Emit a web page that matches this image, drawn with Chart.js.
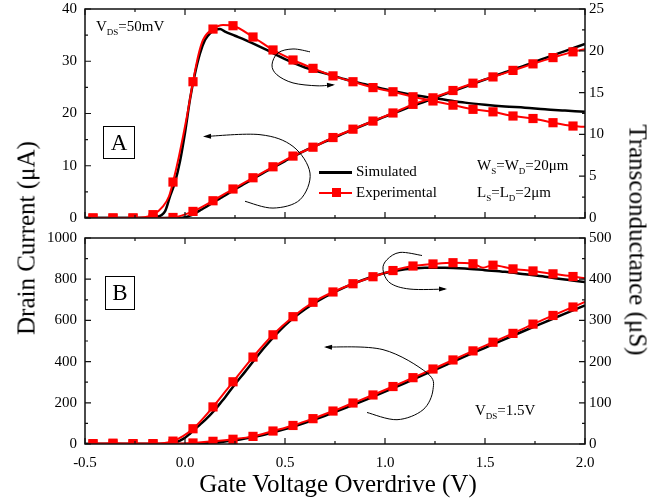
<!DOCTYPE html>
<html>
<head>
<meta charset="utf-8">
<script src="https://cdn.jsdelivr.net/npm/chart.js@4.4.0/dist/chart.umd.min.js"></script>
<style>
  body { margin: 0; background: #fff; }
  #wrap { position: relative; width: 664px; height: 501px; font-family: "Liberation Serif", "Times New Roman", serif; color: #000; overflow: hidden; }
  canvas { position: absolute; left: 0; }
  .lbl { position: absolute; white-space: nowrap; font-size: 15px; line-height: 15px; }
  .lbl sub { font-size: 9px; vertical-align: -4px; line-height: 0; }
  .box { position: absolute; border: 1px solid #000; font-size: 23px; line-height: 31px; text-align: center; }
  .title { position: absolute; white-space: nowrap; font-size: 25px; line-height: 25px; transform: translate(-50%, -50%); }
  .leg-line { position: absolute; height: 3px; }
  .leg-mark { position: absolute; width: 9px; height: 9px; background: #ff0000; }
</style>
</head>
<body>
<div id="wrap">
  <canvas id="chartA" width="664" height="228" style="top:0"></canvas>
  <canvas id="chartB" width="664" height="273" style="top:228px"></canvas>

  <div class="lbl" style="left:96px; top:19px;">V<sub>DS</sub>=50mV</div>
  <div class="box" style="left:103px; top:126px; width:30px; height:31px;">A</div>
  <div class="leg-line" style="left:319px; top:171px; width:33px; background:#000;"></div>
  <div class="lbl" style="left:356px; top:164px;">Simulated</div>
  <div class="leg-line" style="left:319px; top:192px; width:33px; height:2px; background:#ff0000;"></div>
  <div class="leg-mark" style="left:332px; top:188px;"></div>
  <div class="lbl" style="left:356px; top:185px;">Experimental</div>
  <div class="lbl" style="left:477px; top:158px;">W<sub>S</sub>=W<sub>D</sub>=20μm</div>
  <div class="lbl" style="left:477px; top:185px;">L<sub>S</sub>=L<sub>D</sub>=2μm</div>

  <div class="box" style="left:105px; top:276px; width:28px; height:32px;">B</div>
  <div class="lbl" style="left:475px; top:403px;">V<sub>DS</sub>=1.5V</div>

  <div class="title" style="left:26px; top:238px; transform:translate(-50%,-50%) rotate(-90deg);">Drain Current (μA)</div>
  <div class="title" style="left:638px; top:240px; transform:translate(-50%,-50%) rotate(90deg);">Transconductance (μS)</div>
  <div class="title" style="left:338px; top:483px;">Gate Voltage Overdrive (V)</div>
</div>

<script>
// simulated curves (black), shared gate voltage grid
const simV = [-0.5, -0.2, -0.15, -0.1, -0.075, -0.05, -0.025, 0, 0.025, 0.05, 0.075, 0.1, 0.125, 0.15, 0.175, 0.2, 0.25, 0.3, 0.4, 0.5, 0.6, 0.7, 0.8, 0.9, 1.0, 1.1, 1.2, 1.3, 1.4, 1.5, 1.6, 1.7, 1.8, 1.9, 2.0];
const simGmA = [0, 0, 0.1, 0.8, 2.6, 4.3, 6.8, 10.2, 14.2, 17.3, 19.7, 21.3, 22.1, 22.5, 22.6, 22.3, 21.8, 21.3, 20.2, 19.0, 18.0, 17.3, 16.6, 16.0, 15.4, 14.9, 14.5, 14.15, 13.8, 13.55, 13.35, 13.2, 13.0, 12.85, 12.7];
const simIdA = [0, 0, 0, 0, 0, 0, 0.02, 0.15, 0.45, 0.9, 1.45, 2.0, 2.6, 3.2, 3.75, 4.3, 5.5, 6.6, 8.8, 10.9, 12.9, 14.6, 16.3, 17.9, 19.4, 20.9, 22.3, 23.7, 25.1, 26.5, 27.9, 29.2, 30.6, 31.95, 33.3];
const simGmB = [0, 0, 0, 0, 0.5, 3, 8, 15, 25, 36, 47, 58, 70, 83, 98, 113, 145, 175, 236, 288, 327, 357, 381, 400, 415, 424, 428, 428, 426, 422, 418, 412, 406, 399, 393];
const simIdB = [0, 0, 0, 0, 0, 0, 0, 0, 0.3, 1, 2, 3.5, 5, 7, 9, 12, 18, 26, 46, 72, 103, 137, 174, 213, 254, 296, 339, 382, 425, 467, 509, 551, 592, 633, 673];

// experimental (red) marker points
const expV = [-0.46, -0.36, -0.26, -0.16, -0.06, 0.04, 0.14, 0.24, 0.34, 0.44, 0.54, 0.64, 0.74, 0.84, 0.94, 1.04, 1.14, 1.24, 1.34, 1.44, 1.54, 1.64, 1.74, 1.84, 1.94];
const expGmA = [0, 0, 0, 0.4, 4.3, 16.3, 22.6, 23.0, 21.65, 20.1, 18.9, 17.9, 17.0, 16.3, 15.6, 15.1, 14.5, 14.0, 13.5, 13.0, 12.7, 12.2, 11.9, 11.4, 11.0];
const expIdA = [0, 0, 0, 0, 0.1, 1.26, 3.3, 5.55, 7.7, 9.8, 11.85, 13.55, 15.4, 17.0, 18.55, 20.1, 21.75, 23.0, 24.4, 25.8, 27.0, 28.25, 29.5, 30.7, 31.8];
const expGmB = [1, 2, 1, 1, 7, 37, 90, 151, 211, 265, 309, 344, 369, 389, 406, 421, 432, 437, 440, 437.5, 434, 425, 420, 413, 406.5];
const expIdB = [0, 0, 0, 0, 1, 5, 13, 23, 37, 63, 90, 123, 160, 199, 238, 279, 322, 364, 408, 452, 494, 537, 582, 624, 665];

// experimental line points between markers (no marker drawn)
const extraGmAV = [-0.11, -0.08, -0.03, 0.01, 0.065, 0.09, 0.19, 2.0];
const extraGmA = [1.4, 2.6, 7.4, 12.2, 19.3, 21.3, 23.1, 10.9];
const extraIdAV = [2.0];
const extraIdA = [32.3];
const extraGmBV = [1.49, 2.0];
const extraGmB = [428, 402];
const extraIdBV = [2.0];
const extraIdB = [690];

// curved arrows, in (V, left axis) units
const arrowsA = [
  [[0.625, 31.8], [0.54, 32.35], [0.465, 31.6], [0.435, 29.3], [0.46, 27.4], [0.54, 25.85], [0.66, 25.3], [0.74, 25.5]],
  [[0.3, 3.2], [0.44, 1.9], [0.575, 3.5], [0.625, 8.6], [0.54, 13.7], [0.375, 15.95], [0.1, 15.6]]
];
const arrowsB = [
  [[1.185, 915], [1.075, 930], [1.01, 895], [0.99, 847], [1.025, 782], [1.125, 752], [1.3, 752]],
  [[0.91, 153], [1.06, 118], [1.19, 166], [1.24, 264], [1.21, 345], [0.99, 458], [0.705, 471]]
];

const RED = '#ff0000';
const FONT = { family: '"Liberation Serif", "Times New Roman", serif', size: 15 };

function pts(xs, ys) {
  return xs.map((x, i) => ({ x: x, y: ys[i] }));
}
function merged(xs, ys, ex, ey) {
  return pts(xs, ys).concat(pts(ex, ey)).sort((a, b) => a.x - b.x);
}

// frame + inward major/minor ticks on all four sides
const framePlugin = {
  id: 'frame',
  afterDraw(chart) {
    const { ctx, chartArea: a, scales } = chart;
    ctx.save();
    ctx.strokeStyle = '#111';
    ctx.lineWidth = 1.5;
    ctx.strokeRect(a.left, a.top, a.right - a.left, a.bottom - a.top);
    ctx.lineWidth = 1.2;
    const marks = (scale, fn) => {
      const step = scale.options.ticks.stepSize / 2;
      const n = Math.round((scale.max - scale.min) / step);
      for (let i = 0; i <= n; i++) {
        const p = scale.getPixelForValue(scale.min + i * step);
        fn(p, i % 2 === 0 ? 6 : 3);
      }
    };
    ctx.beginPath();
    marks(scales.x, (p, len) => {
      ctx.moveTo(p, a.bottom); ctx.lineTo(p, a.bottom - len);
      ctx.moveTo(p, a.top); ctx.lineTo(p, a.top + len);
    });
    marks(scales.yL, (p, len) => { ctx.moveTo(a.left, p); ctx.lineTo(a.left + len, p); });
    marks(scales.yR, (p, len) => { ctx.moveTo(a.right, p); ctx.lineTo(a.right - len, p); });
    ctx.stroke();
    ctx.restore();
  }
};

// thin curved arrows showing which axis each curve uses
const arrowPlugin = {
  id: 'arrows',
  afterDatasetsDraw(chart, args, opts) {
    const { ctx, scales } = chart;
    ctx.save();
    ctx.strokeStyle = '#000';
    ctx.fillStyle = '#000';
    ctx.lineWidth = 1;
    (opts.paths || []).forEach(path => {
      const p = path.map(q => [scales.x.getPixelForValue(q[0]), scales.yL.getPixelForValue(q[1])]);
      ctx.beginPath();
      ctx.moveTo(p[0][0], p[0][1]);
      for (let i = 0; i < p.length - 1; i++) {
        const p0 = p[i - 1] || p[i], p1 = p[i], p2 = p[i + 1], p3 = p[i + 2] || p2;
        ctx.bezierCurveTo(
          p1[0] + (p2[0] - p0[0]) / 6, p1[1] + (p2[1] - p0[1]) / 6,
          p2[0] - (p3[0] - p1[0]) / 6, p2[1] - (p3[1] - p1[1]) / 6,
          p2[0], p2[1]);
      }
      ctx.stroke();
      const e = p[p.length - 1], b = p[p.length - 2];
      const ang = Math.atan2(e[1] - b[1], e[0] - b[0]);
      ctx.beginPath();
      ctx.moveTo(e[0] + 2 * Math.cos(ang), e[1] + 2 * Math.sin(ang));
      ctx.lineTo(e[0] - 6 * Math.cos(ang) - 2.5 * Math.sin(ang), e[1] - 6 * Math.sin(ang) + 2.5 * Math.cos(ang));
      ctx.lineTo(e[0] - 6 * Math.cos(ang) + 2.5 * Math.sin(ang), e[1] - 6 * Math.sin(ang) - 2.5 * Math.cos(ang));
      ctx.closePath();
      ctx.fill();
    });
    ctx.restore();
  }
};

function redLine(data, axis) {
  return { data: data, yAxisID: axis, borderColor: RED, borderWidth: 2, pointRadius: 0,
           cubicInterpolationMode: 'monotone', order: 0 };
}
function redMarks(data, axis) {
  return { data: data, yAxisID: axis, showLine: false, pointStyle: 'rect', pointRadius: 6.5,
           backgroundColor: RED, borderWidth: 0, order: 0 };
}
function blackLine(data, axis) {
  return { data: data, yAxisID: axis, borderColor: '#000', borderWidth: 2.5, pointRadius: 0,
           cubicInterpolationMode: 'monotone', order: 1 };
}

// axis box sizes are fixed so both panels line up
function fixY(width) {
  return s => { s.width = width; s.paddingTop = 0; s.paddingBottom = 0; };
}

function makePanel(id, p) {
  return new Chart(document.getElementById(id), {
    type: 'line',
    data: { datasets: p.datasets },
    options: {
      responsive: false,
      animation: false,
      devicePixelRatio: 1,
      layout: { padding: { top: p.padTop, left: 0, right: 0, bottom: 0 } },
      plugins: { legend: { display: false }, tooltip: { enabled: false }, arrows: { paths: p.arrows } },
      scales: {
        x: {
          type: 'linear', min: -0.5, max: 2.0,
          grid: { display: false, drawTicks: false }, border: { display: false },
          ticks: { stepSize: 0.5, display: p.showX, autoSkip: false, maxRotation: 0, padding: 10,
                   font: FONT, color: '#000', callback: v => v.toFixed(1) },
          afterFit: s => { s.height = p.xHeight; s.paddingLeft = 0; s.paddingRight = 0; }
        },
        yL: {
          position: 'left', min: 0, max: p.leftMax,
          grid: { display: false, drawTicks: false }, border: { display: false },
          ticks: { stepSize: p.leftStep, padding: 8, font: FONT, color: '#000', callback: v => String(v) },
          afterFit: fixY(85)
        },
        yR: {
          position: 'right', min: 0, max: p.rightMax,
          grid: { display: false, drawTicks: false }, border: { display: false },
          ticks: { stepSize: p.rightStep, padding: 4, font: FONT, color: '#000', callback: v => String(v) },
          afterFit: fixY(79)
        }
      }
    },
    plugins: [framePlugin, arrowPlugin]
  });
}

makePanel('chartA', {
  padTop: 9, xHeight: 10, showX: false,
  leftMax: 40, leftStep: 10, rightMax: 25, rightStep: 5,
  arrows: arrowsA,
  datasets: [
    redLine(merged(expV, expGmA, extraGmAV, extraGmA), 'yR'),
    redMarks(pts(expV, expGmA), 'yR'),
    redLine(merged(expV, expIdA, extraIdAV, extraIdA), 'yL'),
    redMarks(pts(expV, expIdA), 'yL'),
    blackLine(pts(simV, simGmA), 'yR'),
    blackLine(pts(simV, simIdA), 'yL')
  ]
});

makePanel('chartB', {
  padTop: 10, xHeight: 57, showX: true,
  leftMax: 1000, leftStep: 200, rightMax: 500, rightStep: 100,
  arrows: arrowsB,
  datasets: [
    redLine(merged(expV, expGmB, extraGmBV, extraGmB), 'yR'),
    redMarks(pts(expV, expGmB), 'yR'),
    redLine(merged(expV, expIdB, extraIdBV, extraIdB), 'yL'),
    redMarks(pts(expV, expIdB), 'yL'),
    blackLine(pts(simV, simGmB), 'yR'),
    blackLine(pts(simV, simIdB), 'yL')
  ]
});
</script>
</body>
</html>
